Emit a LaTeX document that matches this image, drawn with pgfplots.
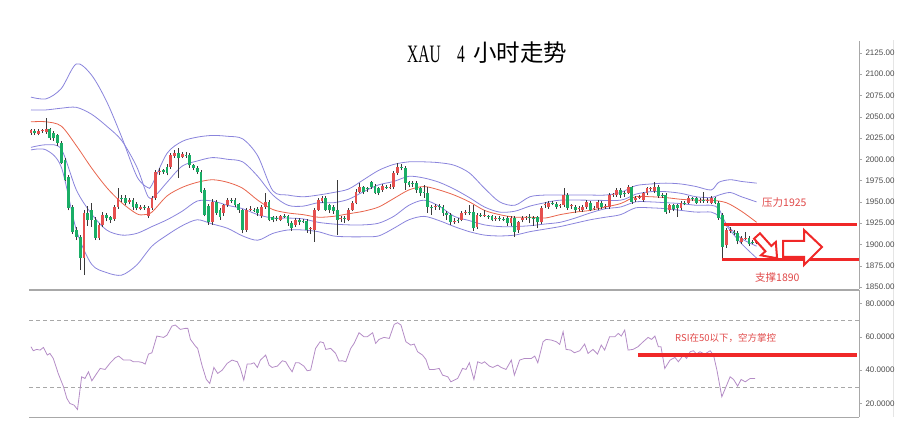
\documentclass[border=0pt]{standalone}
\usepackage{pgfplots}
\usepackage{pgfplotstable}
\pgfplotsset{compat=1.18}
\usepackage{fontspec}
\usepackage{graphicx}
\setmainfont{Liberation Sans}
\newfontfamily\cjk{Noto Sans CJK SC}
\newfontfamily\tserif{Liberation Serif}
\definecolor{candred}{HTML}{E5504F}
\definecolor{candgreen}{HTML}{1AAE66}
\definecolor{wick}{HTML}{3A3A3A}
\definecolor{band}{HTML}{8A84DC}
\definecolor{midline}{HTML}{E8644C}
\definecolor{rsicol}{HTML}{B48CC6}
\definecolor{annred}{HTML}{F02828}
\definecolor{anntext}{HTML}{E04848}
\definecolor{axgray}{HTML}{A8A8A8}

\pgfplotstableread{
i o h l c
0 2031 2036 2029 2034
1 2033 2035 2029 2031
2 2030 2035 2028 2033
3 2033 2036 2031 2034
4 2032 2049 2030 2035
5 2035 2037 2023 2025
6 2031 2033 2022 2025
7 2028 2030 2016 2019
8 2019 2021 1994 1996
9 1999 2001 1974 1976
10 1979 1981 1940 1943
11 1944 1946 1912 1915
12 1917 1920 1905 1909
13 1909 1911 1870 1884
14 1884 1940 1864 1937
15 1937 1945 1922 1929
16 1940 1949 1921 1929
17 1929 1932 1905 1908
18 1908 1925 1905 1923
19 1923 1938 1920 1935
20 1935 1937 1927 1931
21 1932 1934 1925 1929
22 1930 1946 1928 1944
23 1944 1966 1942 1955
24 1955 1958 1950 1953
25 1955 1958 1946 1949
26 1950 1955 1947 1952
27 1952 1955 1940 1944
28 1948 1950 1940 1943
29 1942 1946 1940 1944
30 1944 1946 1941 1943
31 1933 1945 1931 1943
32 1943 1957 1941 1955
33 1954 1987 1952 1985
34 1985 1990 1982 1986
35 1987 1989 1983 1985
36 1991 1994 1981 1984
37 1991 2007 1989 2005
38 2004 2011 2002 2007
39 2007 2013 1978 2001
40 2003 2009 2001 2006
41 2005 2008 2002 2004
42 2005 2007 1990 1993
43 1993 1995 1987 1990
44 1990 1992 1983 1985
45 1985 1987 1960 1962
46 1964 1966 1933 1935
47 1945 1947 1923 1926
48 1926 1953 1923 1950
49 1950 1952 1935 1937
50 1940 1943 1929 1932
51 1937 1948 1934 1946
52 1946 1955 1944 1952
53 1952 1954 1949 1951
54 1952 1954 1944 1946
55 1947 1949 1937 1940
56 1940 1942 1913 1917
57 1917 1943 1915 1941
58 1941 1945 1939 1942
59 1941 1943 1938 1940
60 1942 1944 1934 1937
61 1933 1946 1931 1944
62 1944 1960 1942 1950
63 1950 1952 1927 1929
64 1932 1934 1926 1929
65 1931 1933 1927 1930
66 1929 1935 1927 1933
67 1934 1936 1931 1933
68 1933 1935 1922 1925
69 1925 1927 1916 1919
70 1923 1931 1921 1929
71 1929 1931 1923 1926
72 1928 1930 1925 1927
73 1928 1930 1914 1917
74 1918 1921 1912 1919
75 1917 1943 1903 1941
76 1941 1954 1939 1952
77 1951 1957 1949 1955
78 1955 1957 1939 1941
79 1946 1948 1937 1940
80 1944 1946 1936 1939
81 1941 1976 1911 1929
82 1930 1933 1926 1931
83 1931 1933 1925 1930
84 1929 1943 1927 1941
85 1941 1951 1939 1949
86 1949 1965 1947 1962
87 1962 1972 1960 1967
88 1967 1969 1959 1962
89 1966 1968 1962 1965
90 1973 1975 1965 1967
91 1969 1971 1959 1961
92 1966 1968 1958 1961
93 1964 1971 1962 1969
94 1968 1970 1965 1967
95 1967 1971 1965 1968
96 1967 1986 1965 1984
97 1984 1996 1982 1991
98 1991 1994 1987 1990
99 1990 1992 1964 1972
100 1973 1975 1967 1970
101 1972 1974 1968 1971
102 1972 1974 1961 1964
103 1966 1968 1957 1960
104 1962 1970 1955 1961
105 1960 1968 1937 1944
106 1944 1946 1935 1943
107 1944 1947 1941 1945
108 1945 1947 1941 1944
109 1944 1946 1934 1937
110 1937 1939 1929 1935
111 1935 1937 1923 1926
112 1926 1931 1924 1928
113 1929 1931 1925 1928
114 1929 1939 1927 1937
115 1937 1940 1935 1938
116 1938 1946 1935 1937
117 1938 1946 1916 1919
118 1921 1937 1918 1935
119 1935 1937 1932 1934
120 1934 1940 1932 1935
121 1933 1935 1930 1932
122 1933 1935 1927 1929
123 1930 1933 1928 1931
124 1931 1933 1928 1930
125 1930 1932 1927 1929
126 1931 1933 1922 1925
127 1925 1933 1922 1931
128 1931 1933 1909 1915
129 1917 1928 1914 1926
130 1929 1933 1926 1931
131 1931 1934 1929 1932
132 1932 1936 1925 1931
133 1931 1933 1922 1930
134 1932 1934 1919 1926
135 1926 1945 1924 1943
136 1946 1950 1943 1947
137 1944 1951 1942 1949
138 1949 1951 1946 1948
139 1948 1950 1942 1944
140 1945 1948 1943 1946
141 1946 1966 1944 1958
142 1958 1960 1941 1943
143 1945 1948 1942 1946
144 1944 1946 1937 1940
145 1942 1945 1939 1943
146 1940 1946 1938 1944
147 1944 1952 1942 1950
148 1949 1951 1939 1941
149 1942 1945 1940 1943
150 1943 1952 1941 1950
151 1949 1951 1942 1944
152 1944 1947 1942 1945
153 1944 1960 1942 1958
154 1958 1961 1956 1959
155 1958 1966 1956 1964
156 1964 1966 1955 1958
157 1961 1963 1956 1959
158 1961 1970 1959 1967
159 1967 1969 1948 1950
160 1952 1957 1950 1955
161 1955 1958 1953 1956
162 1952 1962 1950 1960
163 1960 1968 1958 1966
164 1965 1968 1963 1966
165 1963 1973 1961 1968
166 1968 1970 1955 1957
167 1958 1960 1955 1957
168 1958 1960 1936 1938
169 1940 1948 1937 1946
170 1946 1948 1939 1942
171 1946 1948 1932 1943
172 1943 1951 1941 1949
173 1949 1951 1946 1948
174 1949 1957 1947 1955
175 1954 1956 1951 1953
176 1954 1956 1947 1949
177 1951 1954 1949 1952
178 1952 1962 1949 1951
179 1951 1954 1949 1952
180 1949 1957 1947 1955
181 1954 1956 1947 1949
182 1949 1951 1929 1931
183 1935 1937 1884 1897
184 1899 1919 1896 1917
185 1916 1920 1913 1917
186 1915 1917 1911 1914
187 1914 1916 1900 1904
188 1903 1910 1901 1908
189 1907 1915 1905 1908
190 1908 1910 1898 1900
191 1903 1905 1900 1902
192 1902 1907 1900 1905
}\candles

\begin{document}
\begin{tikzpicture}[x=1pt,y=1pt]
\path[use as bounding box] (0,0) rectangle (900,437);
\draw[black!10] (893,20) -- (893,397);

% ---------------- price panel ----------------
\begin{axis}[
  at={(29pt,148pt)}, anchor=south west, scale only axis,
  width=830pt, height=248pt,
  xmin=-0.53, xmax=219.1, ymin=1847.7, ymax=2138.9,
  axis x line*=none, axis y line*=right,
  xtick=\empty,
  ytick={1850,1875,...,2125},
  tick align=outside, major tick length=3pt,
  tick style={axgray},
  axis line style={axgray, line width=0.8pt},
  yticklabel style={font=\fontsize{8}{9}\selectfont, text=black!70,
    /pgf/number format/.cd, fixed, fixed zerofill, precision=2, 1000 sep={}, assume math mode=true},
]
% bands
\addplot[band, line width=0.8pt, smooth, forget plot] coordinates {(0,2073) (4,2071) (8,2083) (12,2112) (16,2099) (20,2068) (24,2026) (28,1980) (30.8,1967) (32,1970) (36,2007) (40,2021) (44,2026) (48,2028) (52,2027) (56,2024) (60,2004) (64,1963) (68,1958) (72,1956) (76,1958) (80,1961) (84,1965) (88,1976) (92,1987) (96,1994) (100,1997) (104,1997) (108,1996) (112,1993) (116,1984) (120,1966) (124,1950) (128,1946) (132,1956) (136,1958) (140,1958) (144,1958) (148,1958) (152,1958) (156,1961) (160,1969) (164,1971) (168,1972) (172,1971) (176,1968) (180,1964) (182,1973) (185,1976) (188,1974) (192,1972)};
\addplot[band, line width=0.8pt, smooth, forget plot] coordinates {(0,2058) (4,2058) (8,2060) (12,2061) (16,2053) (20,2039) (24,2022) (28,1991) (31,1956) (33,1958) (36,1973) (40,1992) (44,1998) (48,2002) (52,2000) (56,1997) (60,1980) (64,1958) (68,1946) (72,1945) (76,1949) (80,1949) (84,1953) (88,1962) (92,1970) (96,1974) (100,1980) (104,1978) (108,1973) (112,1965) (116,1955) (120,1944) (124,1938) (128,1939) (132,1945) (136,1949) (140,1952) (148,1952) (156,1952) (160,1959) (164,1962) (168,1962) (172,1960) (176,1956) (180,1955) (182,1958) (185,1961) (188,1956) (192,1950)};
\addplot[midline, line width=0.8pt, smooth, forget plot] coordinates {(0,2044) (4,2044) (8,2039) (12,2016) (16,1990) (20,1967) (24,1949) (28,1936) (30,1935) (32,1938) (36,1957) (40,1967) (44,1973) (48,1976) (52,1973) (56,1966) (60,1952) (64,1941) (68,1937) (72,1935) (76,1932) (80,1933) (84,1936) (88,1939) (92,1944) (96,1954) (100,1964) (104,1968) (108,1964) (112,1958) (116,1950) (120,1940) (124,1935) (128,1932) (132,1932) (136,1931) (140,1935) (144,1938) (148,1940) (152,1944) (156,1948) (160,1956) (164,1956) (168,1955) (172,1953) (176,1952) (180,1952) (184,1949) (188,1939) (192,1926)};
\addplot[band, line width=0.8pt, smooth, forget plot] coordinates {(0,2014) (4,2017) (8,2012) (12,1964) (16,1936) (20,1917) (24,1911) (28,1913) (32,1921) (36,1929) (40,1939) (44,1951) (48,1951) (52,1946) (56,1942) (60,1935) (64,1931) (68,1931) (72,1930) (76,1926) (80,1924) (84,1923) (88,1923) (92,1925) (96,1933) (100,1946) (104,1952) (108,1945) (112,1933) (116,1928) (120,1923) (124,1921) (128,1921) (132,1922) (136,1924) (140,1926) (144,1931) (148,1937) (152,1942) (156,1944) (160,1950) (164,1950) (168,1949) (172,1948) (176,1946) (180,1946) (182,1942) (184,1924) (188,1907) (192,1898)};
\addplot[band, line width=0.8pt, smooth, forget plot] coordinates {(0,2011) (4,2011) (8,1991) (12,1917) (16,1877) (20,1867) (24,1864) (28,1876) (32,1898) (36,1911) (40,1922) (44,1929) (48,1924) (52,1919) (56,1910) (60,1905) (64,1913) (68,1917) (72,1917) (76,1915) (80,1910) (84,1909) (88,1909) (92,1910) (96,1919) (100,1929) (104,1933) (108,1928) (112,1921) (116,1915) (120,1911) (124,1910) (128,1911) (132,1915) (136,1918) (140,1921) (144,1925) (148,1929) (152,1932) (156,1935) (160,1943) (164,1943) (168,1942) (172,1940) (176,1938) (180,1938) (182,1933) (184,1922) (188,1901) (192,1884)};
% wicks
\addplot[forget plot, draw=none, mark=none,
  error bars/.cd, y dir=plus, y explicit, error mark=none,
  error bar style={draw=wick, line width=0.7pt, solid}]
  table[x=i, y=l, y error plus expr=\thisrow{h}-\thisrow{l}] {\candles};
% up candles (red)
\addplot[forget plot, draw=none, mark=none,
  restrict expr to domain={\thisrow{c}-\thisrow{o}}{0:1000},
  error bars/.cd, y dir=plus, y explicit, error mark=none,
  error bar style={draw=candred, line width=2.8pt, solid}]
  table[x=i, y=o, y error plus expr=\thisrow{c}-\thisrow{o}] {\candles};
% down candles (green)
\addplot[forget plot, draw=none, mark=none,
  restrict expr to domain={\thisrow{o}-\thisrow{c}}{0:1000},
  error bars/.cd, y dir=plus, y explicit, error mark=none,
  error bar style={draw=candgreen, line width=2.8pt, solid}]
  table[x=i, y=c, y error plus expr=\thisrow{o}-\thisrow{c}] {\candles};
% resistance / support lines
\addplot[annred, line width=3.2pt, forget plot] coordinates {(183.3,1923.7) (218.6,1923.7)};
\addplot[annred, line width=3.2pt, forget plot] coordinates {(182.8,1882.6) (219.0,1882.6)};
\end{axis}

% ---------------- RSI panel ----------------
\begin{axis}[
  at={(29pt,20pt)}, anchor=south west, scale only axis,
  width=830pt, height=127pt,
  xmin=-0.53, xmax=219.1, ymin=11.9, ymax=88.0,
  axis x line*=box, axis y line*=right,
  xtick=\empty,
  ytick={20,40,60,80},
  tick align=outside, major tick length=3pt,
  tick style={axgray},
  axis line style={axgray, line width=0.9pt},
  yticklabel style={font=\fontsize{8}{9}\selectfont, text=black!70,
    /pgf/number format/.cd, fixed, fixed zerofill, precision=4, 1000 sep={}, assume math mode=true},
]
\addplot[axgray, dash pattern=on 4pt off 3pt, forget plot] coordinates {(-0.53,70) (219.1,70)};
\addplot[axgray, dash pattern=on 4pt off 3pt, forget plot] coordinates {(-0.53,30) (219.1,30)};
\addplot[rsicol, line width=0.8pt, forget plot] coordinates {(0,54) (0.6,51.6) (1.5,52.4) (2.4,52) (3.3,53.6) (4.3,49) (5,50) (5.9,47) (7.2,38) (8.6,30) (9.5,23) (10.3,20) (11.4,19) (12.3,16.4) (13.4,36) (14.3,35) (15.2,39) (16.1,33.6) (17.4,38) (18.3,41) (19.6,40.4) (21,44.4) (22.3,47.4) (23.2,48.4) (24.5,46) (26.3,46) (27.1,45) (28.5,45) (29.4,44.6) (30.2,43.6) (31.1,49.6) (32,50.4) (33.3,60.4) (35.1,59.6) (36,61) (37.3,66.4) (38.2,67) (39.5,64.4) (40.8,65) (41.5,65) (42.2,58.4) (43.5,54.4) (44.1,53) (45.3,42.4) (46.4,34.4) (47.3,32) (48.4,41.6) (49.4,38) (50.6,40) (51.9,44) (53.2,46) (54.6,45) (55.4,41) (56.3,34) (57.2,43.6) (58.1,43.6) (59,44.4) (59.9,41.6) (60.7,46) (62.1,49) (63,43) (63.8,41.6) (65.2,42.4) (66.5,45.6) (67.4,45) (68.3,41.6) (69.1,39) (70,44.4) (70.9,44.4) (72.2,42.4) (73.1,39.6) (74,40) (75.3,53) (76.5,57) (77.4,56.4) (78,52.4) (79.3,53) (80.6,50) (81.5,45.4) (82.4,45.6) (83.3,45) (84.6,53) (85.5,56) (86.8,62.4) (88.1,60) (89,60) (90.4,62.4) (91.2,56) (92.1,58.4) (93.4,59.6) (94.8,59) (96.1,67.4) (97,68.4) (97.9,67) (99.2,57) (100.5,55) (101.4,55.6) (102.3,51) (103.6,49) (104.5,46.4) (105.4,40.4) (106.7,40.4) (108,41) (108.9,37) (110.3,36) (111.1,33) (112,34) (112.9,35) (114.2,41) (115.1,40.4) (116,44.4) (117.2,34.4) (118.2,45) (119.3,44) (120,45) (121.3,42.4) (122.2,41.6) (123.5,43) (124.4,41.6) (125.7,40.4) (127.1,46) (127.9,37) (129.3,46) (130.6,47) (132.4,47) (133.3,48.4) (134.1,44.4) (135.5,57) (136.3,58.4) (137.7,58) (139,57) (139.9,55.4) (140.8,63) (141.6,52.4) (142.8,52) (143.8,50.4) (145.2,51.6) (146.5,55.6) (147.4,50) (148.7,52.4) (149.9,49.6) (150.9,55) (151.8,52) (153.1,60) (154.5,60) (155.4,62) (156.2,60.4) (157.1,64) (158,52) (159.3,52.4) (160.6,54) (162,57) (163.3,59.6) (164.2,58.4) (165.1,60.4) (166,54) (166.7,54) (167.7,41) (169.1,46) (170.4,47.6) (171.3,45) (172.6,49) (173.5,47) (174.4,51) (175.3,51.6) (176.1,49.6) (177,51) (178.3,49.6) (179.7,51.6) (180.6,49) (181.5,40) (182.8,24) (183.9,30) (185,36) (185.9,34.4) (187,30.4) (187.9,34.4) (189,33) (190.3,35) (191.6,35)};
\addplot[annred, line width=4pt, forget plot] coordinates {(160.7,49) (218.6,49)};
\end{axis}

% ---------------- title ----------------
\node[anchor=base west, inner sep=0] at (407,374.5) {\tserif\fontsize{25}{25}\selectfont\scalebox{0.62}[1]{XAU}};
\node[anchor=base west, inner sep=0] at (457,374.5) {\tserif\fontsize{25}{25}\selectfont\scalebox{0.62}[1]{4}};
\node[anchor=center, inner sep=0] at (520,384) {\cjk\fontsize{23.5}{24}\selectfont 小时走势};

% ---------------- annotations ----------------
\node[anchor=west, inner sep=0, text=anntext] at (762,234) {\cjk\fontsize{10.5}{12}\selectfont 压力1925};
\node[anchor=west, inner sep=0, text=anntext] at (755,159) {\cjk\fontsize{10.5}{12}\selectfont 支撑1890};
\node[anchor=west, inner sep=0, text=anntext] at (675,99) {\cjk\fontsize{9.5}{11}\selectfont RSI在50以下，空方掌控};
\draw[annred, line width=2pt, fill=white, line join=miter, shift={(757,201)}, rotate=-48]
  (0,-4) -- (17,-4) -- (17,-10) -- (30,0) -- (17,10) -- (17,4) -- (0,4) -- cycle;
\draw[annred, line width=2pt, fill=white, line join=miter]
  (783,196) -- (804,196) -- (804,207) -- (822,190) -- (804,172) -- (804,180) -- (783,180) -- cycle;
\end{tikzpicture}
\end{document}
